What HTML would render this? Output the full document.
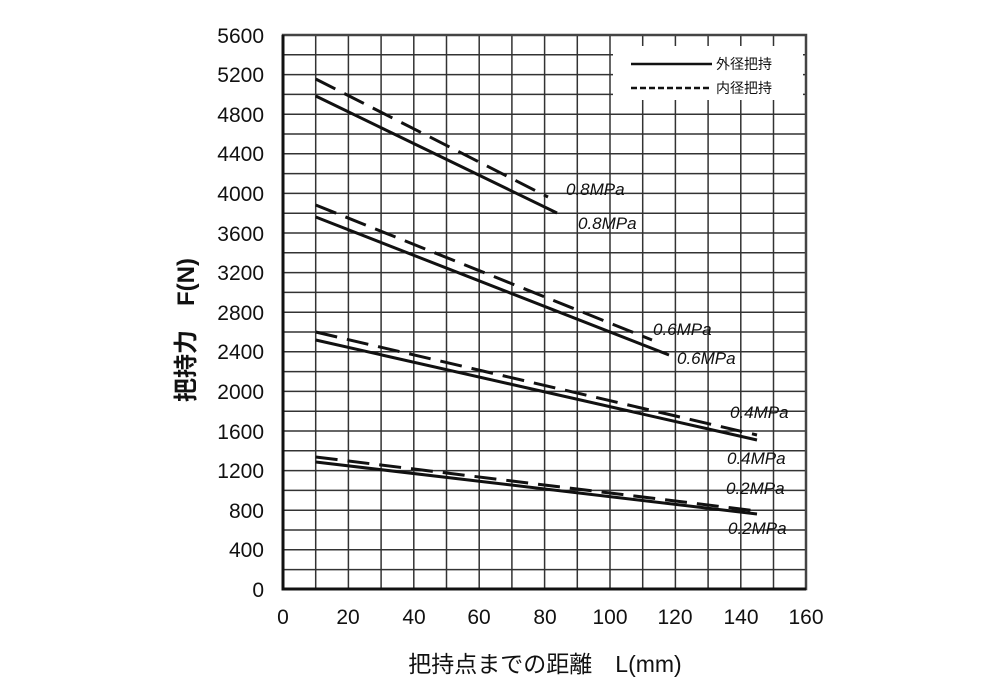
<!DOCTYPE html><html><head><meta charset="utf-8"><style>body{margin:0;background:#fff}svg{display:block}text{font-family:"Liberation Sans","Noto Sans CJK JP",sans-serif;fill:#111}</style></head><body>
<svg width="995" height="700" viewBox="0 0 995 700">
<g stroke="#333" stroke-width="1.5">
<path d="M315.7 35V589M348.4 35V589M381.1 35V589M413.8 35V589M446.5 35V589M479.2 35V589M511.9 35V589M544.6 35V589M577.3 35V589M610 35V589M642.7 35V589M675.4 35V589M708.1 35V589M740.8 35V589M773.5 35V589"/>
<path d="M283 54.8H806M283 74.6H806M283 94.4H806M283 114.2H806M283 134H806M283 153.8H806M283 173.6H806M283 193.4H806M283 213.2H806M283 233H806M283 252.8H806M283 272.6H806M283 292.4H806M283 312.2H806M283 332H806M283 351.8H806M283 371.6H806M283 391.4H806M283 411.2H806M283 431H806M283 450.8H806M283 470.6H806M283 490.4H806M283 510.2H806M283 530H806M283 549.8H806M283 569.6H806"/>
</g>
<rect x="283" y="35" width="523" height="554" fill="none" stroke="#444" stroke-width="2.5"/>
<path d="M283 35V589H806" fill="none" stroke="#111" stroke-width="3"/>
<rect x="613" y="46" width="190" height="54" fill="#fff"/>
<g stroke="#111" stroke-width="2.5">
<line x1="631" y1="64" x2="712" y2="64"/>
<line x1="631" y1="88" x2="712" y2="88" stroke-dasharray="6,3"/>
<g stroke-width="3">
<line x1="315.7" y1="96" x2="557" y2="213"/>
<line x1="315.7" y1="217" x2="669" y2="355"/>
<line x1="315.7" y1="340" x2="757" y2="440"/>
<line x1="315.7" y1="462" x2="757" y2="514"/>
</g>
<g stroke-width="3" stroke-dasharray="22,10">
<line x1="315.7" y1="79" x2="548" y2="197"/>
<line x1="315.7" y1="205" x2="652" y2="340"/>
<line x1="315.7" y1="332" x2="757" y2="435"/>
<line x1="315.7" y1="457" x2="757" y2="511"/>
</g>
</g>
<g font-size="14"><text x="716" y="69">外径把持</text><text x="716" y="93">内径把持</text></g>
<g font-size="17" font-style="italic">
<text x="566" y="195">0.8MPa</text><text x="578" y="229">0.8MPa</text>
<text x="653" y="335">0.6MPa</text><text x="677" y="364">0.6MPa</text>
<text x="730" y="418">0.4MPa</text><text x="727" y="464">0.4MPa</text>
<text x="726" y="494">0.2MPa</text><text x="728" y="534">0.2MPa</text>
</g>
<g font-size="21" text-anchor="end">
<text x="264" y="597">0</text><text x="264" y="557">400</text><text x="264" y="518">800</text><text x="264" y="478">1200</text><text x="264" y="439">1600</text><text x="264" y="399">2000</text><text x="264" y="359">2400</text><text x="264" y="320">2800</text><text x="264" y="280">3200</text><text x="264" y="241">3600</text><text x="264" y="201">4000</text><text x="264" y="161">4400</text><text x="264" y="122">4800</text><text x="264" y="82">5200</text><text x="264" y="43">5600</text>
</g>
<g font-size="21" text-anchor="middle">
<text x="283" y="624">0</text><text x="348" y="624">20</text><text x="414" y="624">40</text><text x="479" y="624">60</text><text x="545" y="624">80</text><text x="610" y="624">100</text><text x="675" y="624">120</text><text x="741" y="624">140</text><text x="806" y="624">160</text>
</g>
<text x="545" y="672" font-size="23" text-anchor="middle">把持点までの距離　L(mm)</text>
<text transform="translate(194,330) rotate(-90)" font-size="24" font-weight="bold" text-anchor="middle">把持力　F(N)</text>
</svg></body></html>
